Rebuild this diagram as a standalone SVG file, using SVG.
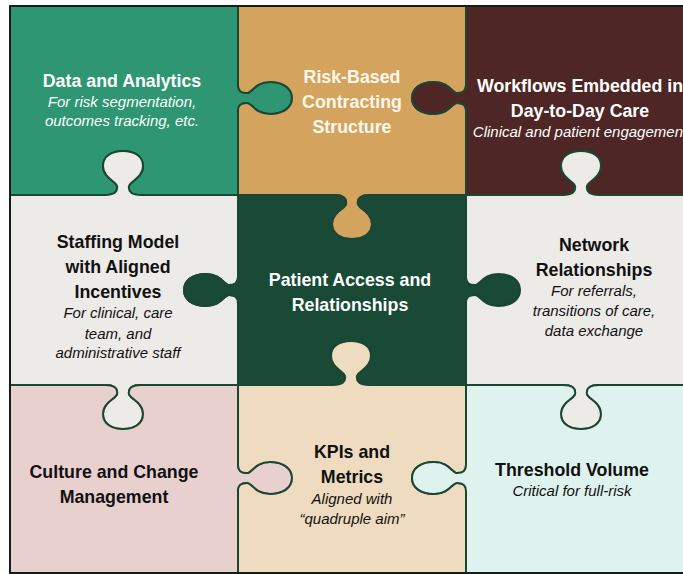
<svg xmlns="http://www.w3.org/2000/svg" width="683" height="574" viewBox="0 0 683 574">
  <style>
    .piece { stroke: #1c4634; stroke-width: 2; stroke-linejoin: round; }
    .t { font-family: "Liberation Sans", Arial, sans-serif; text-anchor: middle; }
    .h { font-weight: bold; font-size: 17.8px; }
    .s { font-style: italic; font-size: 15px; }
    .light { fill: #ffffff; }
    .cream { fill: #fff8ec; }
    .dark { fill: #111111; }
  </style>

  <rect width="683" height="574" fill="#ffffff"/>

  <!-- Row 1 -->
  <g id="data-analytics">
    <path class="piece" fill="#2e9672" d="M10,6 H238 V85 c0,6 3,8 9,8 c5,0 8,-11 23,-11 c14,0 22,7 22,16 c0,9 -8,16 -22,16 c-15,0 -18,-11 -23,-11 c-6,0 -9,2 -9,8 V195 H141 c-9,0 -13,-3 -12,-9 c1,-5 14,-8 14,-20 c0,-10 -9,-15 -20,-15 c-11,0 -20,5 -20,15 c0,12 13,15 14,20 c1,6 -3,9 -12,9 H10 Z"/>
    <text class="t h light" x="122" y="87">Data and Analytics</text>
    <text class="t s light" x="122" y="107">For risk segmentation,</text>
    <text class="t s light" x="122" y="126">outcomes tracking, etc.</text>
  </g>

  <g id="risk-based-contracting">
    <path class="piece" fill="#d4a45f" d="M238,6 H466 V85 c0,6 -3,8 -9,8 c-5,0 -8,-11 -23,-11 c-14,0 -22,7 -22,16 c0,9 8,16 22,16 c15,0 18,-11 23,-11 c6,0 9,2 9,8 V195 H370 c-9,0 -13,3 -12,9 c1,5 14,8 14,20 c0,10 -9,15 -20,15 c-11,0 -20,-5 -20,-15 c0,-12 13,-15 14,-20 c1,-6 -3,-9 -12,-9 H238 V111 c0,-6 3,-8 9,-8 c5,0 8,11 23,11 c14,0 22,-7 22,-16 c0,-9 -8,-16 -22,-16 c-15,0 -18,11 -23,11 c-6,0 -9,-2 -9,-8 Z"/>
    <text class="t h cream" x="352" y="83">Risk-Based</text>
    <text class="t h cream" x="352" y="108">Contracting</text>
    <text class="t h cream" x="352" y="133">Structure</text>
  </g>

  <g id="workflows">
    <path class="piece" fill="#4e2625" d="M466,6 H694 V195 H599 c-9,0 -13,-3 -12,-9 c1,-5 14,-8 14,-20 c0,-10 -9,-15 -20,-15 c-11,0 -20,5 -20,15 c0,12 13,15 14,20 c1,6 -3,9 -12,9 H466 V111 c0,-6 -3,-8 -9,-8 c-5,0 -8,11 -23,11 c-14,0 -22,-7 -22,-16 c0,-9 8,-16 22,-16 c15,0 18,11 23,11 c6,0 9,-2 9,-8 Z"/>
    <text class="t h light" x="580" y="92">Workflows Embedded in</text>
    <text class="t h light" x="580" y="117">Day-to-Day Care</text>
    <text class="t s light" x="580" y="137">Clinical and patient engagement</text>
  </g>

  <!-- Row 2 -->
  <g id="staffing-model">
    <path class="piece" fill="#edebe8" d="M10,195 H105 c9,0 13,-3 12,-9 c-1,-5 -14,-8 -14,-20 c0,-10 9,-15 20,-15 c11,0 20,5 20,15 c0,12 -13,15 -14,20 c-1,6 3,9 12,9 H238 V277 c0,6 -3,8 -9,8 c-5,0 -8,-11 -23,-11 c-14,0 -22,7 -22,16 c0,9 8,16 22,16 c15,0 18,-11 23,-11 c6,0 9,2 9,8 V385 H141 c-9,0 -13,3 -12,9 c1,5 14,8 14,20 c0,10 -9,15 -20,15 c-11,0 -20,-5 -20,-15 c0,-12 13,-15 14,-20 c1,-6 -3,-9 -12,-9 H10 Z"/>
    <text class="t h dark" x="118" y="248">Staffing Model</text>
    <text class="t h dark" x="118" y="273">with Aligned</text>
    <text class="t h dark" x="118" y="298">Incentives</text>
    <text class="t s dark" x="118" y="318">For clinical, care</text>
    <text class="t s dark" x="118" y="338.5">team, and</text>
    <text class="t s dark" x="118" y="358">administrative staff</text>
  </g>

  <g id="patient-access">
    <path class="piece" fill="#184a35" d="M238,195 H334 c9,0 13,3 12,9 c-1,5 -14,8 -14,20 c0,10 9,15 20,15 c11,0 20,-5 20,-15 c0,-12 -13,-15 -14,-20 c-1,-6 3,-9 12,-9 H466 V277 c0,6 3,8 9,8 c5,0 8,-11 23,-11 c14,0 22,7 22,16 c0,9 -8,16 -22,16 c-15,0 -18,-11 -23,-11 c-6,0 -9,2 -9,8 V385 H369 c-9,0 -13,-3 -12,-9 c1,-5 14,-8 14,-20 c0,-10 -9,-15 -20,-15 c-11,0 -20,5 -20,15 c0,12 13,15 14,20 c1,6 -3,9 -12,9 H238 V303 c0,-6 -3,-8 -9,-8 c-5,0 -8,11 -23,11 c-14,0 -22,-7 -22,-16 c0,-9 8,-16 22,-16 c15,0 18,11 23,11 c6,0 9,-2 9,-8 Z"/>
    <text class="t h light" x="350" y="286">Patient Access and</text>
    <text class="t h light" x="350" y="311">Relationships</text>
  </g>

  <g id="network-relationships">
    <path class="piece" fill="#edebe8" d="M466,195 H563 c9,0 13,-3 12,-9 c-1,-5 -14,-8 -14,-20 c0,-10 9,-15 20,-15 c11,0 20,5 20,15 c0,12 -13,15 -14,20 c-1,6 3,9 12,9 H694 V385 H599 c-9,0 -13,3 -12,9 c1,5 14,8 14,20 c0,10 -9,15 -20,15 c-11,0 -20,-5 -20,-15 c0,-12 13,-15 14,-20 c1,-6 -3,-9 -12,-9 H466 V303 c0,-6 3,-8 9,-8 c5,0 8,11 23,11 c14,0 22,-7 22,-16 c0,-9 -8,-16 -22,-16 c-15,0 -18,11 -23,11 c-6,0 -9,-2 -9,-8 Z"/>
    <text class="t h dark" x="594" y="251">Network</text>
    <text class="t h dark" x="594" y="276">Relationships</text>
    <text class="t s dark" x="594" y="296">For referrals,</text>
    <text class="t s dark" x="594" y="316">transitions of care,</text>
    <text class="t s dark" x="594" y="336">data exchange</text>
  </g>

  <!-- Row 3 -->
  <g id="culture-change">
    <path class="piece" fill="#e8d0cf" d="M10,385 H105 c9,0 13,3 12,9 c-1,5 -14,8 -14,20 c0,10 9,15 20,15 c11,0 20,-5 20,-15 c0,-12 -13,-15 -14,-20 c-1,-6 3,-9 12,-9 H238 V465 c0,6 3,8 9,8 c5,0 8,-11 23,-11 c14,0 22,7 22,16 c0,9 -8,16 -22,16 c-15,0 -18,-11 -23,-11 c-6,0 -9,2 -9,8 V573 H10 Z"/>
    <text class="t h dark" x="114" y="478">Culture and Change</text>
    <text class="t h dark" x="114" y="503">Management</text>
  </g>

  <g id="kpis-metrics">
    <path class="piece" fill="#efdbbf" d="M238,385 H333 c9,0 13,-3 12,-9 c-1,-5 -14,-8 -14,-20 c0,-10 9,-15 20,-15 c11,0 20,5 20,15 c0,12 -13,15 -14,20 c-1,6 3,9 12,9 H466 V465 c0,6 -3,8 -9,8 c-5,0 -8,-11 -23,-11 c-14,0 -22,7 -22,16 c0,9 8,16 22,16 c15,0 18,-11 23,-11 c6,0 9,2 9,8 V573 H238 V491 c0,-6 3,-8 9,-8 c5,0 8,11 23,11 c14,0 22,-7 22,-16 c0,-9 -8,-16 -22,-16 c-15,0 -18,11 -23,11 c-6,0 -9,-2 -9,-8 Z"/>
    <text class="t h dark" x="352" y="458">KPIs and</text>
    <text class="t h dark" x="352" y="483">Metrics</text>
    <text class="t s dark" x="352" y="504">Aligned with</text>
    <text class="t s dark" x="352" y="524">“quadruple aim”</text>
  </g>

  <g id="threshold-volume">
    <path class="piece" fill="#dff3ee" d="M466,385 H563 c9,0 13,3 12,9 c-1,5 -14,8 -14,20 c0,10 9,15 20,15 c11,0 20,-5 20,-15 c0,-12 -13,-15 -14,-20 c-1,-6 3,-9 12,-9 H694 V573 H466 V491 c0,-6 -3,-8 -9,-8 c-5,0 -8,11 -23,11 c-14,0 -22,-7 -22,-16 c0,-9 8,-16 22,-16 c15,0 18,11 23,11 c6,0 9,-2 9,-8 Z"/>
    <text class="t h dark" x="572" y="476">Threshold Volume</text>
    <text class="t s dark" x="572" y="496">Critical for full-risk</text>
  </g>

  <!-- outer frame -->
  <g id="connectors">
    <rect x="10" y="6" width="684" height="567" fill="none" stroke="#111111" stroke-width="1.5"/>
  </g>
</svg>
